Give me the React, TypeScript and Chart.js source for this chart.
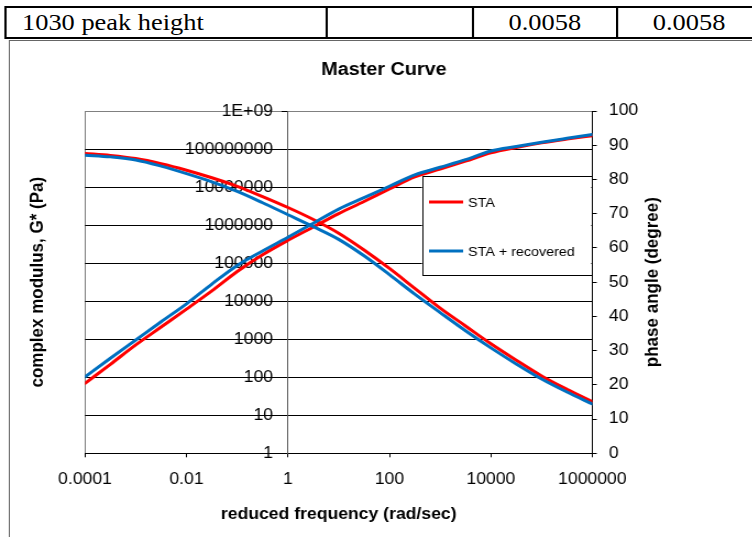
import React, { useEffect, useRef } from 'react';
import { Chart, registerables } from 'chart.js';

Chart.register(...registerables);

// ---------- data ----------
const freq = [
  0.0001, 0.000316, 0.001, 0.00316, 0.01, 0.0316, 0.1, 0.316, 1, 3.16, 10,
  31.6, 100, 316, 1000, 3160, 10000, 31600, 100000, 316000, 1000000,
];
const gStarSTA = [
  69, 219, 708, 2090, 6170, 18600, 60300, 166000, 398000, 891000, 2000000,
  4170000, 8910000, 18600000, 29500000, 47900000, 79400000, 110000000,
  145000000, 182000000, 224000000,
];
const gStarRecovered = [
  102, 316, 955, 2880, 8510, 28200, 87100, 209000, 479000, 1120000, 2630000,
  5250000, 10500000, 20900000, 33100000, 52500000, 89100000, 117000000,
  151000000, 191000000, 240000000,
];
const phaseSTA = [
  87.6, 87.0, 86.1, 84.6, 82.7, 80.5, 78.0, 75.0, 71.8, 68.3, 64.3, 59.4,
  54.0, 48.2, 42.4, 37.2, 32.0, 27.2, 22.6, 18.7, 15.1,
];
const phaseRecovered = [
  87.1, 86.6, 85.7, 83.9, 81.7, 79.3, 76.5, 73.2, 69.7, 66.2, 62.5, 57.7,
  52.2, 46.5, 41.1, 35.8, 30.8, 26.1, 21.7, 17.9, 14.4,
];
const seriesNames = ['STA', 'STA + recovered'];
const seriesColors = ['#FF0000', '#0070C0'];

const xTickValues = [0.0001, 0.01, 1, 100, 10000, 1000000];
const xTickLabels = ['0.0001', '0.01', '1', '100', '10000', '1000000'];
const yTickValues = [1, 10, 100, 1000, 10000, 100000, 1000000, 10000000, 100000000, 1000000000];
const yTickLabels = ['1', '10', '100', '1000', '10000', '100000', '1000000', '10000000', '100000000', '1E+09'];
const yAxisCrossAt = 1;
const phaseMin = 0;
const phaseMax = 100;
const phaseStep = 10;

const chartTitle = 'Master Curve';
const xTitle = 'reduced frequency (rad/sec)';
const yTitle = 'complex modulus, G* (Pa)';
const y1Title = 'phase angle (degree)';

const tableCells = ['1030 peak height', '', '0.0058', '0.0058'];

// ---------- layout ----------
const STRETCH = 1.1;
const W = 684;
const H = 537;
const FONT = "'Liberation Sans', Arial, Helvetica, sans-serif";
const SERIF = "'Liberation Serif', 'Times New Roman', serif";
const GRAY = '#808080';

const titlesPlugin = {
  id: 'axisTitles',
  afterDraw(chart: any) {
    const { ctx, chartArea } = chart;
    const cy = (chartArea.top + chartArea.bottom) / 2;
    ctx.save();
    ctx.fillStyle = '#000';
    ctx.font = `bold 17px ${FONT}`;
    ctx.textAlign = 'center';
    ctx.textBaseline = 'middle';
    const drawRot = (text: string, x: number) => {
      ctx.save();
      ctx.translate(x, cy);
      ctx.rotate(-Math.PI / 2);
      ctx.fillText(text, 0, 0);
      ctx.restore();
    };
    drawRot(yTitle, 34.1);
    drawRot(y1Title, chartArea.right + 55);
    ctx.restore();
  },
};

// left axis tick labels, placed to the left of the axis that crosses at x = 1
const leftLabelsPlugin = {
  id: 'leftLabels',
  beforeDatasetsDraw(chart: any) {
    const { ctx, scales } = chart;
    const xs = scales.x;
    const ys = scales.y;
    const ax = xs.getPixelForValue(yAxisCrossAt);
    ctx.save();
    ctx.fillStyle = '#000';
    ctx.font = `16px ${FONT}`;
    ctx.textAlign = 'right';
    ctx.textBaseline = 'middle';
    yTickValues.forEach((v, i) => {
      ctx.fillText(yTickLabels[i], ax - 13.6, ys.getPixelForValue(v) + 0.5);
    });
    ctx.restore();
  },
};

const legendPlugin = {
  id: 'boxLegend',
  afterDatasetsDraw(chart: any) {
    const { ctx, chartArea } = chart;
    const bx = 383.6;
    const by = chartArea.top + 65;
    const bw = chartArea.right - 1 - bx;
    const bh = 99;
    ctx.save();
    ctx.fillStyle = '#fff';
    ctx.fillRect(bx, by, bw, bh);
    ctx.strokeStyle = '#000';
    ctx.lineWidth = 1;
    ctx.strokeRect(Math.round(bx) + 0.5, Math.round(by) + 0.5, Math.round(bw), Math.round(bh));
    const ds = chart.data.datasets;
    ctx.font = `13px ${FONT}`;
    ctx.textBaseline = 'middle';
    ctx.textAlign = 'left';
    for (let i = 0; i < 2; i++) {
      const y = by + 26 + i * 49;
      ctx.strokeStyle = ds[i].borderColor;
      ctx.lineWidth = 3;
      ctx.beginPath();
      ctx.moveTo(bx + 6.4, y);
      ctx.lineTo(bx + 37.4, y);
      ctx.stroke();
      ctx.fillStyle = '#000';
      ctx.fillText(ds[i].label, bx + 41.9, y + 1);
    }
    ctx.restore();
  },
};

function ChartBlock() {
  const ref = useRef<HTMLCanvasElement | null>(null);
  useEffect(() => {
    if (!ref.current) return;
    Chart.defaults.font.family = FONT;
    Chart.defaults.color = '#000';
    const mk = (vals: number[]) => freq.map((f, i) => ({ x: f, y: vals[i] }));
    const chart = new Chart(ref.current, {
      type: 'line',
      data: {
        datasets: [
          { label: seriesNames[0], data: mk(gStarSTA), yAxisID: 'y', borderColor: seriesColors[0], backgroundColor: seriesColors[0], order: 2 },
          { label: seriesNames[1], data: mk(gStarRecovered), yAxisID: 'y', borderColor: seriesColors[1], backgroundColor: seriesColors[1], order: 1 },
          { label: seriesNames[0], data: mk(phaseSTA), yAxisID: 'y1', borderColor: seriesColors[0], backgroundColor: seriesColors[0], order: 2 },
          { label: seriesNames[1], data: mk(phaseRecovered), yAxisID: 'y1', borderColor: seriesColors[1], backgroundColor: seriesColors[1], order: 1 },
        ],
      },
      options: {
        responsive: false,
        animation: false,
        devicePixelRatio: 1,
        layout: { padding: { left: 77.3, right: 63.1, top: 45, bottom: 0 } },
        elements: {
          point: { radius: 0 },
          line: { borderWidth: 3, cubicInterpolationMode: 'monotone', borderCapStyle: 'round', borderJoinStyle: 'round' },
        },
        plugins: {
          legend: { display: false },
          tooltip: { enabled: false },
          title: {
            display: true,
            text: chartTitle,
            color: '#000',
            font: { size: 18, weight: 'bold', family: FONT },
            padding: { top: 14, bottom: 30.4 },
          },
        },
        scales: {
          x: {
            type: 'logarithmic',
            position: 'bottom',
            min: 0.0001,
            max: 1000000,
            afterBuildTicks: (s: any) => {
              s.ticks = xTickValues.map((v) => ({ value: v }));
            },
            afterFit: (s: any) => {
              s.height = 83.7;
            },
            ticks: {
              autoSkip: false,
              maxRotation: 0,
              padding: 13,
              color: '#000',
              font: { size: 16, family: FONT },
              callback: (_v: any, i: number) => xTickLabels[i],
            },
            grid: {
              drawOnChartArea: true,
              color: (c: any) => (c.tick && c.tick.value === xTickValues[0] ? GRAY : 'rgba(0,0,0,0)'),
              tickColor: '#000',
              tickLength: 4,
              lineWidth: 1,
            },
            border: { color: '#000', width: 1 },
            title: {
              display: true,
              text: xTitle,
              color: '#000',
              font: { size: 16, weight: 'bold', family: FONT },
              padding: { top: 0, bottom: 12.4 },
            },
          },
          y: {
            type: 'logarithmic',
            position: { x: yAxisCrossAt } as any,
            min: 1,
            max: 1000000000,
            afterBuildTicks: (s: any) => {
              s.ticks = yTickValues.map((v) => ({ value: v }));
            },
            ticks: { display: false },
            grid: {
              color: (c: any) => (c.tick && c.tick.value === yTickValues[yTickValues.length - 1] ? GRAY : '#000'),
              tickColor: '#000',
              tickLength: 5,
              lineWidth: 1,
            },
            border: { color: '#555', width: 1 },
          },
          y1: {
            type: 'linear',
            position: 'right',
            min: phaseMin,
            max: phaseMax,
            afterFit: (s: any) => {
              s.width = 82.4;
            },
            ticks: {
              stepSize: phaseStep,
              padding: 11,
              color: '#000',
              font: { size: 16, family: FONT },
            },
            grid: { drawOnChartArea: false, tickColor: '#000', tickLength: 4 },
            border: { color: '#000', width: 1 },
          },
        },
      } as any,
      plugins: [leftLabelsPlugin, titlesPlugin, legendPlugin],
    });
    return () => chart.destroy();
  }, []);
  return (
    <canvas
      ref={ref}
      width={W}
      height={H}
      style={{ position: 'absolute', left: 0, top: 0, width: W + 'px', height: H + 'px', display: 'block' }}
    />
  );
}

export default function App() {
  const cellBounds = [
    [5.6, 296.4],
    [298.4, 429.1],
    [431.1, 559.5],
    [561.5, 691.3],
  ];
  return (
    <div
      style={{
        position: 'fixed',
        left: 0,
        top: 0,
        width: W,
        height: H,
        overflow: 'hidden',
        transform: `scaleX(${STRETCH})`,
        transformOrigin: '0 0',
        background: '#fff',
      }}
    >
      {/* table row */}
      <div
        style={{
          position: 'absolute',
          left: 3.6,
          top: 6,
          width: 720,
          height: 29,
          border: '2px solid #000',
        }}
      />
      {[296.4, 429.1, 559.5].map((x) => (
        <div key={x} style={{ position: 'absolute', left: x, top: 6, width: 2, height: 33, background: '#000' }} />
      ))}
      {tableCells.map((t, i) => (
        <div
          key={i}
          style={{
            position: 'absolute',
            left: cellBounds[i][0],
            width: cellBounds[i][1] - cellBounds[i][0],
            top: 8,
            height: 29,
            lineHeight: '29px',
            fontFamily: SERIF,
            fontSize: 24,
            color: '#000',
            textAlign: i === 0 ? 'left' : 'center',
            paddingLeft: i === 0 ? 14.4 : 0,
            boxSizing: 'border-box',
            whiteSpace: 'nowrap',
          }}
        >
          {t}
        </div>
      ))}
      {/* chart frame */}
      <div
        style={{
          position: 'absolute',
          left: 7.5,
          top: 40,
          width: 800,
          height: 700,
          border: '1px solid #666',
        }}
      />
      <ChartBlock />
    </div>
  );
}
